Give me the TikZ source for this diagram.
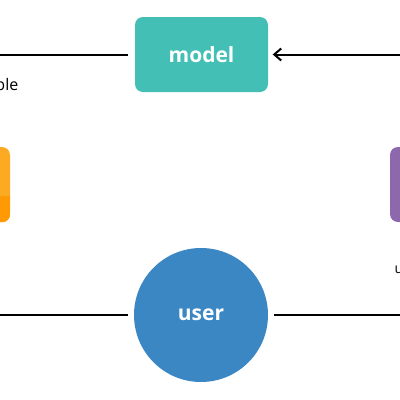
\documentclass[tikz,border=0pt]{standalone}
\usepackage{fontspec}
\setmainfont{Open Sans}
\usetikzlibrary{arrows.meta}
\definecolor{teal1}{HTML}{43BFB5}
\definecolor{orangeA}{HTML}{FBAA22}
\definecolor{orangeB}{HTML}{FF9A05}
\definecolor{purple1}{HTML}{8D68AC}
\definecolor{blue1}{HTML}{3A87C4}
\tikzset{
  box/.style={rounded corners=8pt, inner sep=0pt},
  wire/.style={line width=2pt, black},
  lbl/.style={font=\fontsize{21}{25}\selectfont\bfseries, text=white},
}
\begin{document}
\begin{tikzpicture}[x=1pt,y=-1pt]
\useasboundingbox (0,0) rectangle (400,400);
\clip (0,0) rectangle (400,400);
% model
\node[box, fill=teal1, minimum width=133pt, minimum height=75pt, lbl] (model) at (201.5,54.5) {model};
% orange box (off left)
\node[box, fill=orangeA, minimum width=110pt, minimum height=75pt] (left) at (-45,184.5) {};
\begin{scope}
\clip[rounded corners=8pt] (left.south west) rectangle (left.north east);
\fill[orangeB] (-100,196) rectangle (11,223);
\end{scope}
% purple box (off right)
\node[box, fill=purple1, minimum width=110pt, minimum height=75pt] (right) at (445,184.5) {};
% user circle
\node[circle, fill=blue1, minimum size=134pt, inner sep=0pt, lbl] (user) at (201,315) {user};
% connectors
\coordinate (lt) at (-20,54.5);
\coordinate (rt) at (420,54.5);
\coordinate (lb) at (-20,315);
\coordinate (rb) at (420,315);
\draw[wire] (model.west) ++(-7,0) -- (lt);
\draw[wire, -{Straight Barb[length=7pt,width=12pt,line width=2pt]}] (rt) -- ([xshift=4.5pt]model.east);
\draw[wire] ([xshift=-6pt]user.west) -- (lb);
\draw[wire] ([xshift=6pt]user.east) -- (rb);
% partial labels
\node[anchor=base east, font=\fontsize{16}{19}\selectfont, inner sep=0pt] (t1) at (18.5,90) {ble};
\node[anchor=base west, font=\fontsize{14}{17}\selectfont, inner sep=0pt] (t2) at (394.5,273) {u};
\end{tikzpicture}
\end{document}
